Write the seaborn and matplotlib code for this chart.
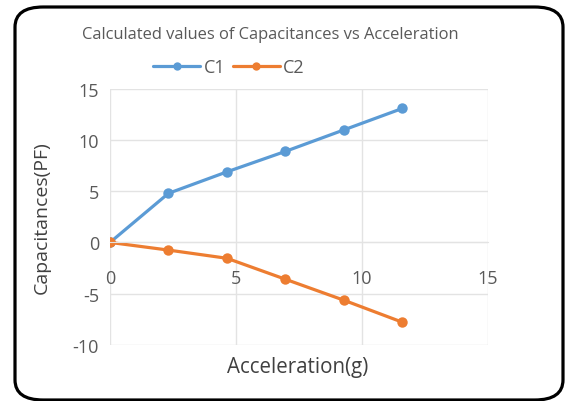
import matplotlib
matplotlib.use("Agg")
import matplotlib.pyplot as plt
import seaborn as sns
import pandas as pd
from matplotlib.patches import FancyBboxPatch
from matplotlib.lines import Line2D

acceleration = [0, 2.32, 4.64, 6.96, 9.28, 11.6]
c1 = [0, 4.8, 6.9, 8.9, 11.0, 13.1]
c2 = [0, -0.75, -1.55, -3.6, -5.65, -7.8]
series_names = ["C1", "C2"]
x_ticks = [0, 5, 10, 15]
y_ticks = [-10, -5, 0, 5, 10, 15]

df = pd.DataFrame({
    "Acceleration": acceleration * 2,
    "Capacitance": c1 + c2,
    "Series": [series_names[0]] * len(c1) + [series_names[1]] * len(c2),
})

sns.set_style("white")
plt.rcParams['font.family'] = ['Open Sans', 'DejaVu Sans']
plt.rcParams['axes.unicode_minus'] = False

W, H = 566, 402
fig = plt.figure(figsize=(W / 100, H / 100), dpi=100)
ax = fig.add_axes([110 / W, 1 - 345.7 / H, (488 - 110) / W, (345.7 - 90) / H])

palette = {"C1": "#5B9BD5", "C2": "#ED7D31"}
sns.lineplot(data=df, x="Acceleration", y="Capacitance", hue="Series",
             palette=palette, marker="o", markersize=7.5, markeredgewidth=0,
             linewidth=2.3, ax=ax, legend=False)

ax.set_xlim(0, 15)
ax.set_ylim(-10, 15)
ax.set_xticks(x_ticks)
ax.set_yticks(y_ticks)
ax.grid(True, color="#E3E3E3", linewidth=1)
ax.set_axisbelow(True)
for s in ["top", "right", "left"]:
    ax.spines[s].set_visible(False)
ax.spines["bottom"].set_position(("data", 0))
ax.spines["bottom"].set_color("#E3E3E3")
ax.tick_params(axis="both", length=0, labelsize=13, colors="#595959")
ax.tick_params(axis="x", pad=19)
ax.tick_params(axis="y", pad=8)
ax.set_xlabel("")
ax.set_ylabel("")

fig.text(270 / W, 1 - 35 / H, "Calculated values of Capacitances vs Acceleration",
         ha="center", va="center", fontsize=11.9, color="#595959")
fig.text(298 / W, 1 - 368 / H, "Acceleration(g)", ha="center", va="center",
         fontsize=14.8, color="#404040")
fig.text(42 / W, 1 - 218 / H, "Capacitances(PF)", ha="center", va="center",
         rotation=90, fontsize=14, color="#404040")

handles = [Line2D([0], [0], color=palette[n], marker="o", markersize=6,
                  markeredgewidth=0, linewidth=2.3) for n in series_names]
fig.legend(handles, series_names, loc="center", bbox_to_anchor=(229 / W, 1 - 68 / H),
           ncol=2, frameon=False, fontsize=13, labelcolor="#595959",
           handlelength=2.6, handletextpad=0.2, columnspacing=0.4)

border = FancyBboxPatch((15 / W, 1 - 401 / H), (563 - 15) / W, (401 - 8) / H,
                        boxstyle="round,pad=0,rounding_size=0.05",
                        transform=fig.transFigure, fill=False,
                        edgecolor="black", linewidth=2.3)
fig.patches.append(border)

fig.savefig("out.png", dpi=100)
